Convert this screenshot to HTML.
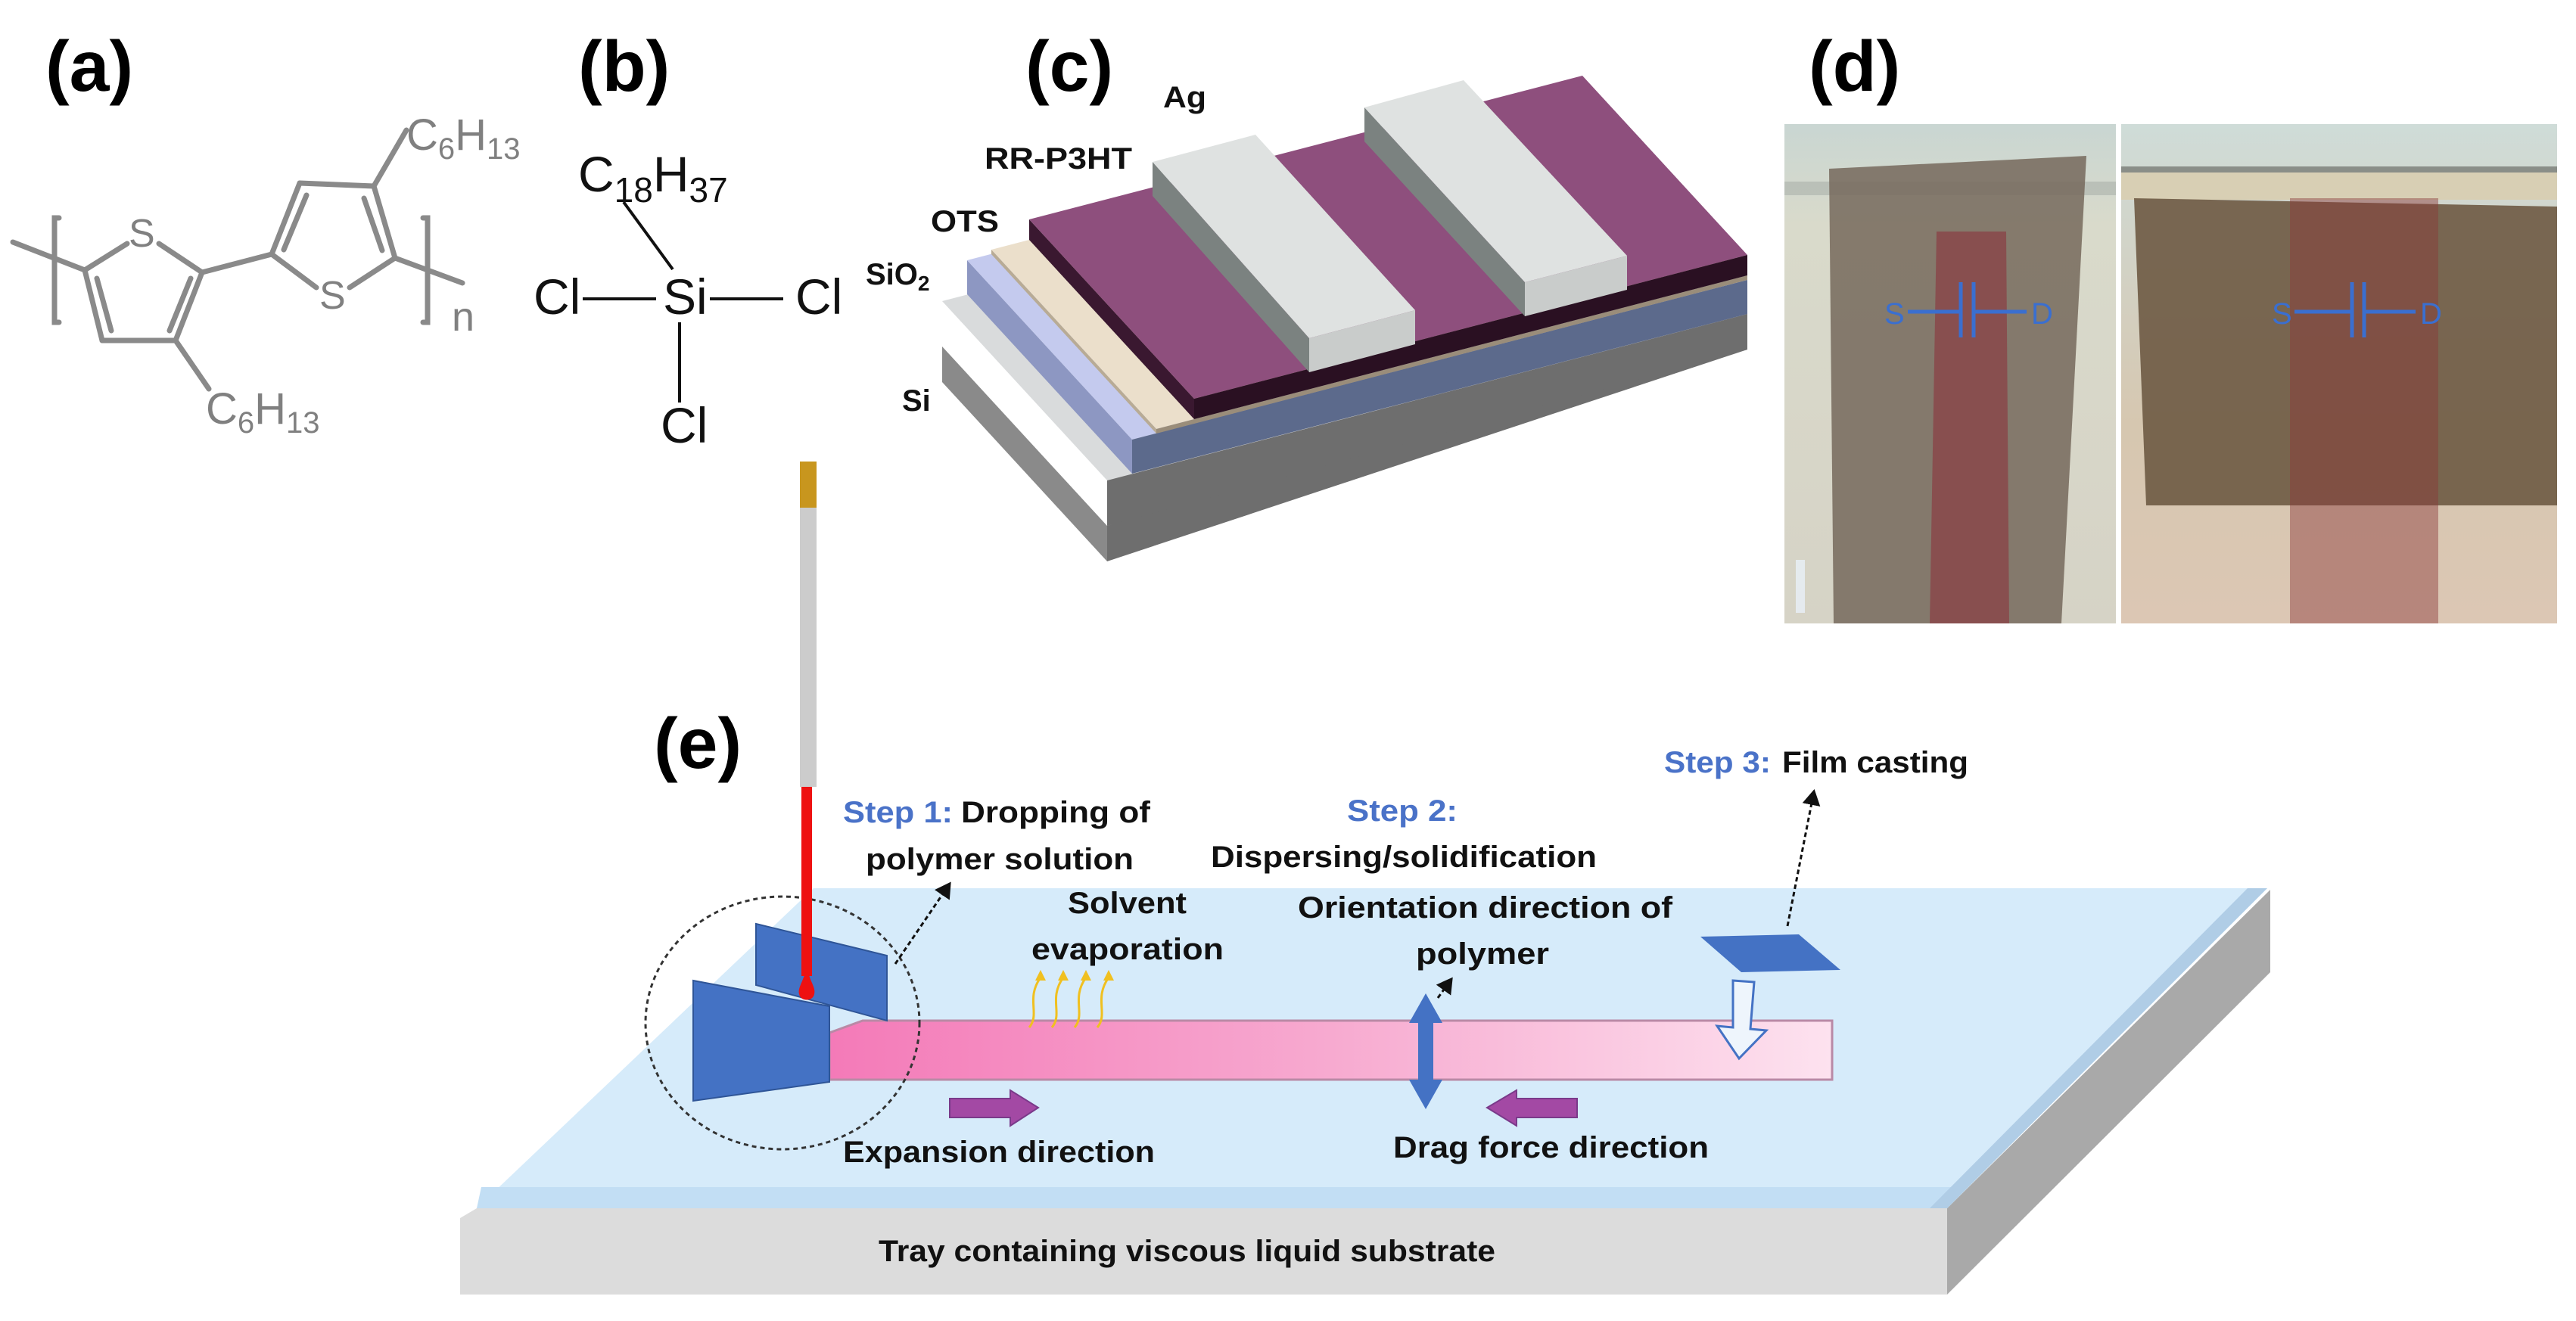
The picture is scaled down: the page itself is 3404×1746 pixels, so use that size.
<!DOCTYPE html>
<html><head><meta charset="utf-8"><style>
html,body{margin:0;padding:0;background:#fff}
svg{display:block}
.lab{font-family:"Liberation Sans",sans-serif;font-weight:bold;font-size:95px;fill:#000}
.t{font-family:"Liberation Sans Narrow","Liberation Sans",sans-serif;font-weight:bold;font-size:40px;fill:#111}
.b{fill:#4a72c8}
.ch{font-family:"Liberation Sans Narrow","Liberation Sans",sans-serif;fill:#808080}
.cb{font-family:"Liberation Sans Narrow","Liberation Sans",sans-serif;fill:#111}
</style></head><body>
<svg width="3404" height="1746" viewBox="0 0 3404 1746" xmlns="http://www.w3.org/2000/svg">
<defs>
<linearGradient id="pink" x1="0" x2="1" y1="0" y2="0"><stop offset="0" stop-color="#f47ab8"/><stop offset="0.5" stop-color="#f7aad0"/><stop offset="1" stop-color="#fde2ef"/></linearGradient>
<linearGradient id="ph1" x1="0" x2="0" y1="0" y2="1"><stop offset="0" stop-color="#c9d6d2"/><stop offset="0.2" stop-color="#d9dacb"/><stop offset="1" stop-color="#d6d3c6"/></linearGradient>
<linearGradient id="ph2" x1="0" x2="0" y1="0" y2="1"><stop offset="0" stop-color="#cfdcd8"/><stop offset="0.6" stop-color="#d6c7b0"/><stop offset="1" stop-color="#dcc7b4"/></linearGradient>
<marker id="ah" markerWidth="8" markerHeight="8" refX="6" refY="4" orient="auto" markerUnits="strokeWidth"><path d="M0,0 L7,4 L0,8 z" fill="#111"/></marker>
</defs>

<!-- labels -->
<text class="lab" x="60" y="120">(a)</text>
<text class="lab" x="764" y="120">(b)</text>
<text class="lab" x="1355" y="120">(c)</text>
<text class="lab" x="2390" y="120">(d)</text>
<text class="lab" x="864" y="1015">(e)</text>

<!-- (a) structure -->
<g stroke="#8a8a8a" stroke-width="7" fill="none" stroke-linecap="round">
<line x1="17" y1="320" x2="112" y2="357"/>
<line x1="112" y1="357" x2="168" y2="322"/>
<line x1="210" y1="322" x2="267" y2="360"/>
<line x1="112" y1="357" x2="135" y2="450"/>
<line x1="128" y1="368" x2="147" y2="437"/>
<line x1="135" y1="450" x2="232" y2="450"/>
<line x1="232" y1="450" x2="267" y2="360"/>
<line x1="224" y1="437" x2="252" y2="368"/>
<line x1="267" y1="360" x2="359" y2="336"/>
<line x1="359" y1="336" x2="396" y2="242"/>
<line x1="375" y1="330" x2="405" y2="258"/>
<line x1="396" y1="242" x2="494" y2="246"/>
<line x1="494" y1="246" x2="522" y2="341"/>
<line x1="481" y1="262" x2="505" y2="331"/>
<line x1="522" y1="341" x2="462" y2="380"/>
<line x1="418" y1="380" x2="359" y2="336"/>
<line x1="494" y1="246" x2="537" y2="172"/>
<line x1="232" y1="450" x2="276" y2="514"/>
<line x1="522" y1="341" x2="611" y2="374"/>
<path d="M78,288 L72,288 L72,426 L78,426"/>
<path d="M559,288 L565,288 L565,426 L559,426"/>
</g>
<text class="ch" x="170" y="326" font-size="52">S</text>
<text class="ch" x="422" y="408" font-size="52">S</text>
<text class="ch" x="537" y="198" font-size="58">C<tspan font-size="40" dy="12">6</tspan><tspan dy="-12">H</tspan><tspan font-size="40" dy="12">13</tspan></text>
<text class="ch" x="272" y="560" font-size="58">C<tspan font-size="40" dy="12">6</tspan><tspan dy="-12">H</tspan><tspan font-size="40" dy="12">13</tspan></text>
<text class="ch" x="597" y="437" font-size="54">n</text>

<!-- (b) -->
<g stroke="#111" stroke-width="4">
<line x1="824" y1="267" x2="889" y2="356"/>
<line x1="770" y1="395" x2="867" y2="395"/>
<line x1="938" y1="395" x2="1035" y2="395"/>
<line x1="898" y1="426" x2="898" y2="532"/>
</g>
<text class="cb" x="764" y="253" font-size="66">C<tspan font-size="46" dy="14">18</tspan><tspan dy="-14">H</tspan><tspan font-size="46" dy="14">37</tspan></text>
<text class="cb" x="876" y="415" font-size="66">Si</text>
<text class="cb" x="705" y="415" font-size="66">Cl</text>
<text class="cb" x="1051" y="415" font-size="66">Cl</text>
<text class="cb" x="873" y="585" font-size="66">Cl</text>

<!-- (c) device -->
<g>
<!-- Si -->
<polygon points="1245,458 1463,695 1463,742 1245,505" fill="#8a8a8a"/>
<polygon points="1463,695 2309,415 2309,462 1463,742" fill="#6e6e6e"/>
<polygon points="1245,398 2091,178 2309,415 1463,635" fill="#d9dbdc"/>
<polygon points="1463,635 2309,415 2309,462 1463,695" fill="#6e6e6e"/>
<!-- lavender -->
<polygon points="1278,344 1496,581 1496,626 1278,389" fill="#8d97c2"/>
<polygon points="1278,344 2091,133 2309,370 1496,581" fill="#c4caee"/>
<polygon points="1496,581 2309,370 2309,415 1496,626" fill="#5c6a8c"/>
<!-- tan -->
<polygon points="1310,330 2091,127 2309,364 1528,567" fill="#ebdfcb"/>
<polygon points="1528,567 2309,364 2309,370 1528,573" fill="#9a8d7a"/>
<polygon points="1310,330 1528,567 1528,573 1310,336" fill="#b8ab95"/>
<!-- purple -->
<polygon points="1360,290 1578,527 1578,554 1360,317" fill="#3a1830"/>
<polygon points="1360,290 2091,100 2309,337 1578,527" fill="#8e4f7d"/>
<polygon points="1578,527 2309,337 2309,364 1578,554" fill="#2a1022"/>
<!-- Ag box1 -->
<polygon points="1523,214 1730,447 1730,492 1523,259" fill="#7b8280"/>
<polygon points="1523,214 1659,178 1870,410 1730,447" fill="#dfe2e1"/>
<polygon points="1730,447 1870,410 1870,455 1730,492" fill="#c9cccb"/>
<!-- Ag box2 -->
<polygon points="1803,142 2015,373 2015,418 1803,187" fill="#7b8280"/>
<polygon points="1803,142 1934,106 2150,338 2015,373" fill="#dfe2e1"/>
<polygon points="2015,373 2150,338 2150,383 2015,418" fill="#c9cccb"/>
</g>
<text class="t" x="1537" y="142" textLength="57" lengthAdjust="spacingAndGlyphs">Ag</text>
<text class="t" x="1301" y="223" textLength="195" lengthAdjust="spacingAndGlyphs">RR-P3HT</text>
<text class="t" x="1230" y="306" textLength="90" lengthAdjust="spacingAndGlyphs">OTS</text>
<text class="t" x="1144" y="376">SiO<tspan font-size="28" dy="8">2</tspan></text>
<text class="t" x="1192" y="543">Si</text>

<!-- (d) photos -->
<rect x="2358" y="164" width="438" height="660" fill="url(#ph1)"/>
<rect x="2358" y="240" width="438" height="18" fill="#aab0aa" opacity="0.6"/>
<polygon points="2417,223 2757,206 2724,824 2423,824" fill="#75695c" opacity="0.85"/>
<polygon points="2559,306 2651,306 2655,824 2550,824" fill="#8a4246" opacity="0.75"/>
<rect x="2373" y="740" width="12" height="70" fill="#e8f0f8" opacity="0.8"/>
<rect x="2803" y="164" width="576" height="660" fill="url(#ph2)"/>
<rect x="2803" y="220" width="576" height="8" fill="#8a8e88"/>
<rect x="2803" y="228" width="576" height="36" fill="#d8cfb4"/>
<polygon points="2820,262 3379,273 3379,668 2836,668" fill="#6e5a44" opacity="0.9"/>
<polygon points="3026,262 3222,262 3222,824 3026,824" fill="#8a3838" opacity="0.45"/>
<g stroke="#3a6fd0" stroke-width="5" fill="none">
<line x1="2521" y1="412" x2="2591" y2="412"/><line x1="2608" y1="412" x2="2678" y2="412"/>
<line x1="2591" y1="373" x2="2591" y2="446"/><line x1="2608" y1="373" x2="2608" y2="446"/>
<line x1="3032" y1="412" x2="3108" y2="412"/><line x1="3124" y1="412" x2="3192" y2="412"/>
<line x1="3108" y1="373" x2="3108" y2="446"/><line x1="3124" y1="373" x2="3124" y2="446"/>
</g>
<g font-family="Liberation Sans Narrow, Liberation Sans, sans-serif" font-size="40" fill="#3a6fd0">
<text x="2490" y="428">S</text><text x="2684" y="428">D</text>
<text x="3002" y="428">S</text><text x="3198" y="428">D</text>
</g>

<!-- (e) tray -->
<polygon points="630,1597 2573,1597 2573,1711 608,1711 608,1610" fill="#dcdcdc"/>
<polygon points="2573,1597 3000,1176 3000,1285 2573,1711" fill="#a9a9a9"/>
<polygon points="1075,1174 2996,1174 2573,1597 630,1597" fill="#d6ebfa"/>
<polygon points="636,1569 2600,1569 2573,1597 630,1597" fill="#c2def4"/>
<polygon points="2970,1174 2996,1174 2573,1597 2550,1597" fill="#b0cde6"/>

<!-- pink strip -->
<polygon points="1096,1365 1140,1349 2421,1349 2421,1427 1096,1427" fill="url(#pink)" stroke="#b98aa6" stroke-width="3"/>
<!-- blue blocks -->
<polygon points="999,1221 1172,1263 1172,1349 999,1302" fill="#4472c4" stroke="#2f5597" stroke-width="2"/>
<polygon points="916,1296 1096,1330 1096,1430 916,1455" fill="#4472c4" stroke="#2f5597" stroke-width="2"/>
<!-- dashed circle -->
<ellipse cx="1034" cy="1352" rx="181" ry="167" fill="none" stroke="#333" stroke-width="3" stroke-dasharray="6,5"/>
<!-- pipette -->
<rect x="1057" y="610" width="22" height="61" fill="#c8961e"/>
<rect x="1057" y="671" width="22" height="369" fill="#cccccc"/>
<rect x="1059" y="1040" width="14" height="250" fill="#ee1111"/>
<path d="M1066,1280 C1060,1300 1054,1306 1056,1314 C1058,1324 1074,1324 1076,1314 C1078,1306 1072,1300 1066,1280 z" fill="#ee1111"/>

<!-- yellow wavy -->
<g stroke="#f0c020" stroke-width="3" fill="none">
<path d="M1360,1358 C1375,1340 1355,1320 1375,1292"/>
<path d="M1390,1358 C1405,1340 1385,1320 1405,1292"/>
<path d="M1420,1358 C1435,1340 1415,1320 1435,1292"/>
<path d="M1450,1358 C1465,1340 1445,1320 1465,1292"/>
</g>
<g fill="#f0c020">
<polygon points="1375,1282 1368,1296 1382,1296"/><polygon points="1405,1282 1398,1296 1412,1296"/>
<polygon points="1435,1282 1428,1296 1442,1296"/><polygon points="1465,1282 1458,1296 1472,1296"/>
</g>

<!-- blue double arrow -->
<polygon points="1884,1313 1906,1352 1894,1352 1894,1427 1906,1427 1884,1466 1862,1427 1874,1427 1874,1352 1862,1352" fill="#4472c4"/>
<!-- purple arrows -->
<polygon points="1255,1452 1335,1452 1335,1441 1372,1464 1335,1488 1335,1477 1255,1477" fill="#a349a4" stroke="#7a3a8a" stroke-width="2"/>
<polygon points="2084,1452 2004,1452 2004,1441 1965,1464 2004,1488 2004,1477 2084,1477" fill="#a349a4" stroke="#7a3a8a" stroke-width="2"/>
<!-- film casting parallelogram -->
<polygon points="2247,1238 2377,1235 2432,1282 2301,1285" fill="#4472c4"/>
<!-- hollow arrow -->
<polygon points="2290,1296 2318,1298 2313,1360 2334,1362 2298,1399 2269,1356 2290,1358" fill="#eef5fc" stroke="#4472c4" stroke-width="3"/>

<!-- dashed arrows -->
<g stroke="#111" stroke-width="3" stroke-dasharray="6,4" fill="none" marker-end="url(#ah)">
<line x1="1183" y1="1274" x2="1255" y2="1168"/>
<line x1="1900" y1="1319" x2="1918" y2="1294"/>
<line x1="2362" y1="1224" x2="2397" y2="1046"/>
</g>

<!-- texts -->
<text class="t b" x="1114" y="1087" textLength="145" lengthAdjust="spacingAndGlyphs">Step 1:</text>
<text class="t" x="1270" y="1087" textLength="250" lengthAdjust="spacingAndGlyphs">Dropping of</text>
<text class="t" x="1144" y="1149" textLength="354" lengthAdjust="spacingAndGlyphs">polymer solution</text>
<text class="t b" x="1780" y="1085" textLength="146" lengthAdjust="spacingAndGlyphs">Step 2:</text>
<text class="t" x="1600" y="1146" textLength="510" lengthAdjust="spacingAndGlyphs">Dispersing/solidification</text>
<text class="t b" x="2199" y="1021" textLength="141" lengthAdjust="spacingAndGlyphs">Step 3:</text>
<text class="t" x="2355" y="1021" textLength="246" lengthAdjust="spacingAndGlyphs">Film casting</text>
<text class="t" x="1411" y="1207" textLength="157" lengthAdjust="spacingAndGlyphs">Solvent</text>
<text class="t" x="1363" y="1268" textLength="254" lengthAdjust="spacingAndGlyphs">evaporation</text>
<text class="t" x="1715" y="1213" textLength="495" lengthAdjust="spacingAndGlyphs">Orientation direction of</text>
<text class="t" x="1871" y="1274" textLength="176" lengthAdjust="spacingAndGlyphs">polymer</text>
<text class="t" x="1114" y="1536" textLength="412" lengthAdjust="spacingAndGlyphs">Expansion direction</text>
<text class="t" x="1841" y="1530" textLength="417" lengthAdjust="spacingAndGlyphs">Drag force direction</text>
<text class="t" x="1161" y="1667" textLength="815" lengthAdjust="spacingAndGlyphs">Tray containing viscous liquid substrate</text>
</svg>
</body></html>
